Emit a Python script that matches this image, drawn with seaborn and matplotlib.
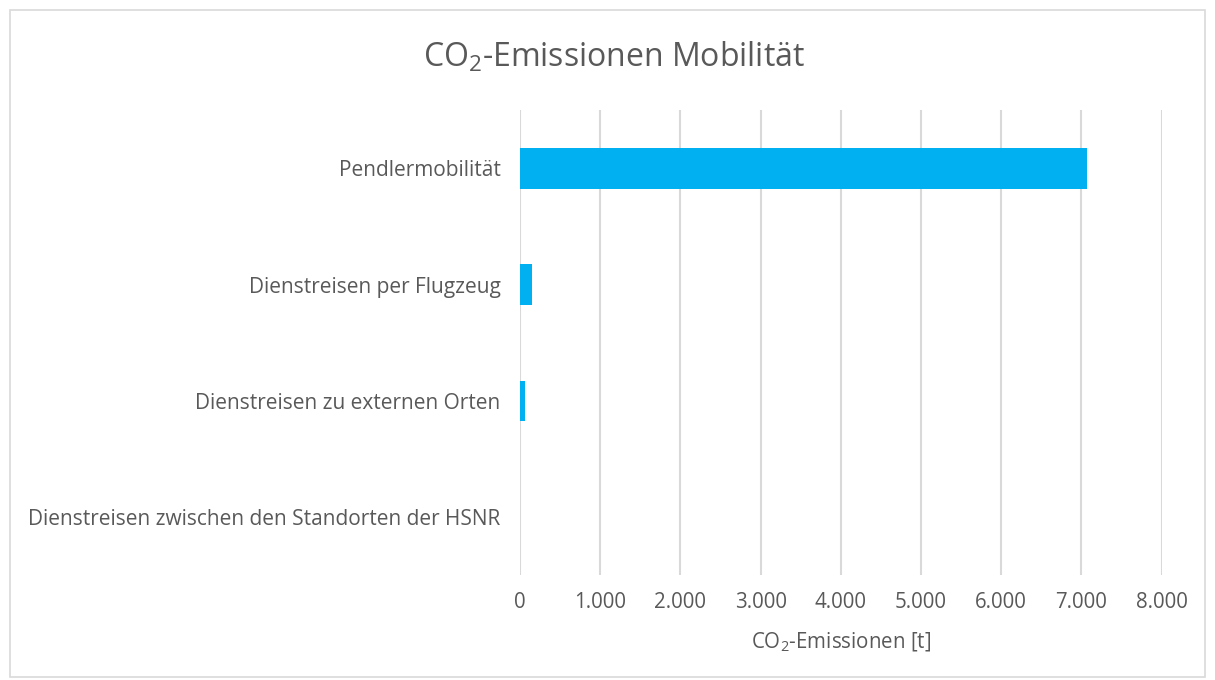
import matplotlib
matplotlib.use("Agg")
import matplotlib.pyplot as plt
import seaborn as sns
from matplotlib.ticker import FuncFormatter, MultipleLocator
from matplotlib.patches import Rectangle

categories = [
    "Pendlermobilität",
    "Dienstreisen per Flugzeug",
    "Dienstreisen zu externen Orten",
    "Dienstreisen zwischen den Standorten der HSNR",
]
emissions = [7070, 150, 60, 0]

sns.set_theme(style="white")
plt.rcParams["font.family"] = ["Open Sans", "DejaVu Sans"]
plt.rcParams["mathtext.default"] = "regular"

text_color = "#595959"
grid_color = "#D9D9D9"

fig = plt.figure(figsize=(12.15, 6.8), dpi=100)
ax = fig.add_axes([0.428, 0.154, 0.528, 0.684])

sns.barplot(x=emissions, y=categories, orient="h", color="#00B0F0",
            saturation=1, width=0.35, linewidth=0, ax=ax)

ax.set_xlim(0, 8000)
ax.xaxis.set_major_locator(MultipleLocator(1000))
ax.xaxis.set_major_formatter(FuncFormatter(lambda v, p: f"{int(v):,}".replace(",", ".")))
ax.grid(axis="x", color=grid_color, linewidth=1.5)
ax.set_axisbelow(True)
for s in ax.spines.values():
    s.set_visible(False)

ax.tick_params(axis="x", length=0, pad=12, labelsize=14.8, labelcolor=text_color)
ax.tick_params(axis="y", length=0, pad=14, labelsize=15, labelcolor=text_color)
ax.set_ylabel("")
ax.set_xlabel(r"CO$_2$-Emissionen [t]", fontsize=14.8, color=text_color, labelpad=13)

fig.text(0.505, 0.915, r"CO$_2$-Emissionen Mobilität", ha="center", va="center",
         fontsize=23, color=text_color)

fig.patches.append(Rectangle((0.008, 0.005), 0.984, 0.98, transform=fig.transFigure,
                             fill=False, edgecolor=grid_color, linewidth=1.2))

fig.savefig("out.png", dpi=100)
